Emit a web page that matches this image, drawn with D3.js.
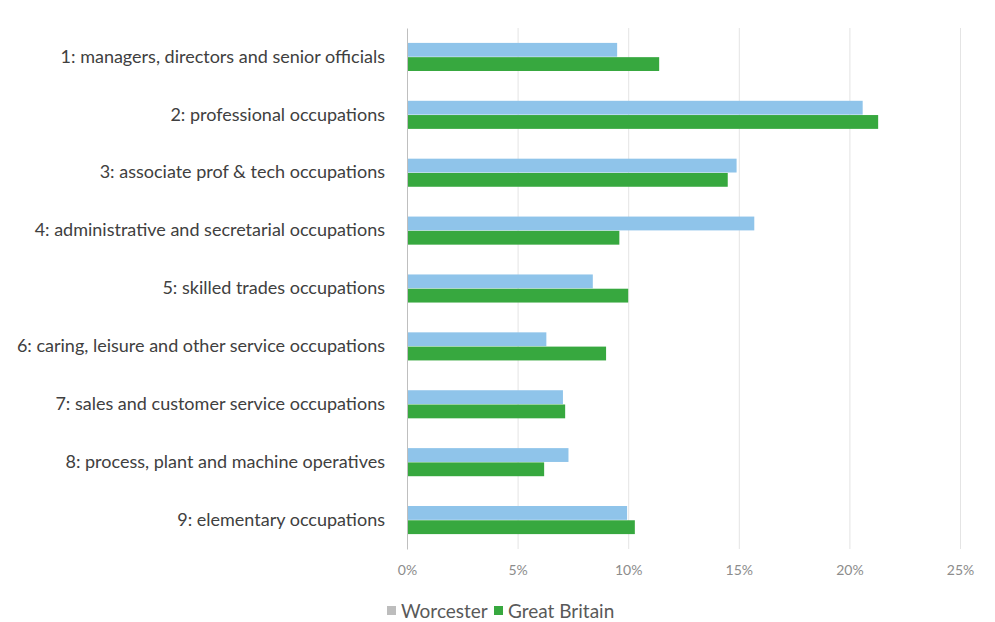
<!DOCTYPE html>
<html>
<head>
<meta charset="utf-8">
<script src="https://cdn.jsdelivr.net/npm/d3@7"></script>
<style>
  body { margin: 0; background: #fff; }
  text { font-family: Lato, "Open Sans", sans-serif; }
</style>
</head>
<body>
<svg id="chart" width="995" height="622"></svg>
<script>
const categories = [
  '1: managers, directors and senior officials',
  '2: professional occupations',
  '3: associate prof & tech occupations',
  '4: administrative and secretarial occupations',
  '5: skilled trades occupations',
  '6: caring, leisure and other service occupations',
  '7: sales and customer service occupations',
  '8: process, plant and machine operatives',
  '9: elementary occupations'
]
const worcester = [9.5, 20.6, 14.9, 15.7, 8.4, 6.3, 7.05, 7.3, 9.95]
const greatBritain = [11.4, 21.3, 14.5, 9.6, 10.0, 9.0, 7.15, 6.2, 10.3]
const seriesNames = ['Worcester', 'Great Britain']
const xTicks = [0, 5, 10, 15, 20, 25]

const colors = ['#8fc4ea', '#37a83f']
const legendColors = ['#bdbdbd', '#37a83f']

const margin = { top: 28, right: 35, bottom: 73, left: 407 }
const width = 995 - margin.left - margin.right
const height = 622 - margin.top - margin.bottom

const svg = d3.select('#chart')
const g = svg.append('g')
  .attr('transform', 'translate(' + margin.left + ',' + margin.top + ')')

const x = d3.scaleLinear().domain([0, 25]).range([0, 553])
const y = d3.scaleBand().domain(categories).range([0, height]).paddingInner(0.5).paddingOuter(0.25)
const ySub = d3.scaleBand().domain(seriesNames).range([0, y.bandwidth()]).padding(0.03)

// gridlines
g.append('g')
  .selectAll('line')
  .data(xTicks.slice(1))
  .enter()
  .append('line')
  .attr('x1', d => x(d) + 0.5)
  .attr('x2', d => x(d) + 0.5)
  .attr('y1', 0)
  .attr('y2', height)
  .attr('stroke', '#e4e4e4')
  .attr('stroke-width', 1)

// bars
const rows = g.append('g')
  .selectAll('g')
  .data(categories)
  .enter()
  .append('g')
  .attr('transform', d => 'translate(0,' + y(d) + ')')

rows.selectAll('rect')
  .data((d, i) => [worcester[i], greatBritain[i]])
  .enter()
  .append('rect')
  .attr('x', 0)
  .attr('y', (d, i) => ySub(seriesNames[i]))
  .attr('height', ySub.bandwidth())
  .attr('width', d => x(d))
  .attr('fill', (d, i) => colors[i])

// y axis
const yAxis = g.append('g')
  .call(d3.axisLeft(y).tickSize(0).tickPadding(22))
yAxis.select('.domain').attr('stroke', '#bfbfbf')
yAxis.selectAll('text')
  .attr('fill', '#404040')
  .attr('font-size', '18px')

// x axis
const xAxis = g.append('g')
  .attr('transform', 'translate(0,' + height + ')')
  .call(d3.axisBottom(x).tickValues(xTicks).tickSize(0).tickPadding(16).tickFormat(d => d + '%'))
xAxis.select('.domain').remove()
xAxis.selectAll('text')
  .attr('fill', '#8c8c8c')
  .attr('font-size', '14px')

// legend
const legend = svg.append('g')
  .attr('transform', 'translate(387,611)')
const legendX = [0, 107]
seriesNames.forEach((name, i) => {
  const item = legend.append('g').attr('transform', 'translate(' + legendX[i] + ',0)')
  item.append('rect')
    .attr('x', 0)
    .attr('y', -5)
    .attr('width', 9)
    .attr('height', 9)
    .attr('fill', legendColors[i])
  item.append('text')
    .attr('x', 14)
    .attr('y', 0)
    .attr('dy', '0.35em')
    .attr('fill', '#595959')
    .attr('font-size', '19px')
    .text(name)
})
</script>
</body>
</html>
